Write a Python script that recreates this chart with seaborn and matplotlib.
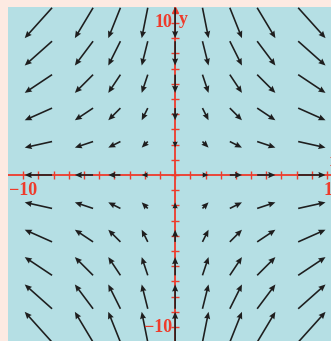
import numpy as np
import pandas as pd
import seaborn as sns
import matplotlib.pyplot as plt

# grid positions where arrows are drawn
x_pos = [-9, -6, -4, -2, 0, 2, 4, 6, 9]
y_pos = [-10, -8, -6, -4, -2, 0, 2, 4, 6, 8, 10]

# tick marks on both axes
ticks = list(range(-10, 11))

# field F(x, y) = x i - y j
rows = []
for xv in x_pos:
    for yv in y_pos:
        if xv == 0 and yv == 0:
            continue
        rows.append((xv, yv, xv, -yv))
df = pd.DataFrame(rows, columns=["x", "y", "u", "v"])

sns.set_style("white")
plt.rcParams['font.family'] = ['Liberation Serif', 'DejaVu Serif']

bg = "#b5dfe4"
border = "#fdeae2"
red = "#ee3b2b"

fig = plt.figure(figsize=(3.31, 3.41), dpi=100, facecolor=border)
ax = fig.add_axes([8 / 331, 0, 323 / 331, 334 / 341])
ax.set_facecolor(bg)
ax.set_xlim(-11.0, 10.26)
ax.set_ylim(-10.92, 11.05)

# axes drawn through the origin
ax.axhline(0, color=red, lw=1.3, zorder=1)
ax.axvline(0, color=red, lw=1.3, zorder=1)
ax.plot(ticks, [0] * len(ticks), ls="none", marker="|", ms=6, mew=1.0, color=red, zorder=1)
ax.plot([0] * len(ticks), ticks, ls="none", marker="_", ms=6, mew=1.0, color=red, zorder=1)
ax.plot([0], [10.85], marker="^", ms=5, color=red, zorder=1)

ax.quiver(df["x"], df["y"], df["u"], df["v"], angles="xy", scale_units="xy",
          scale=5, pivot="middle", color="#1e1e1e", width=0.005,
          headwidth=3.8, headlength=4.4, headaxislength=4.0, zorder=3)

lab = dict(color=red, fontsize=13, fontweight="bold")
ax.text(-0.2, 10, "10", ha="right", va="center", **lab)
ax.text(0.25, 10.2, "y", ha="left", va="center", **lab)
ax.text(-0.2, -10, "\u221210", ha="right", va="center", **lab)
ax.text(-10, -1.05, "\u221210", ha="center", va="center", **lab)
ax.text(10.35, -1.05, "10", ha="center", va="center", clip_on=False, **lab)
ax.text(10.2, 0.9, "x", ha="left", va="center", clip_on=False, **lab)

ax.set_xticks([])
ax.set_yticks([])
for s in ax.spines.values():
    s.set_visible(False)

fig.savefig("out.png", dpi=100, facecolor=border)
